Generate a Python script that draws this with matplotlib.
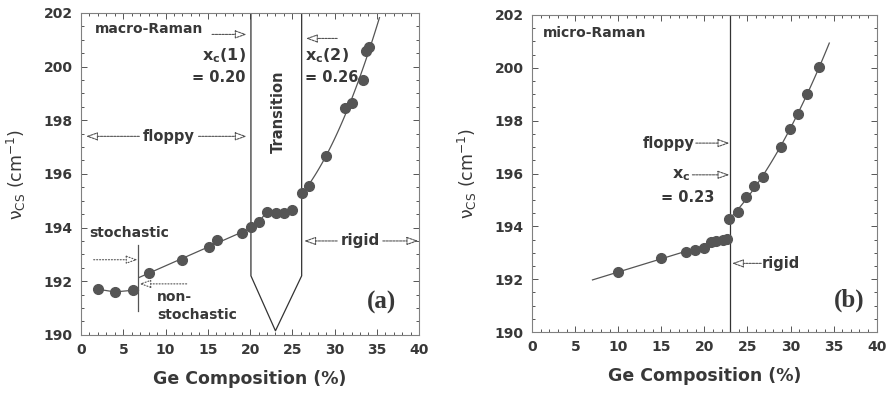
import numpy as np
import matplotlib
matplotlib.use("Agg")
import matplotlib.pyplot as plt
from matplotlib.ticker import MultipleLocator

# macro-Raman, Ge composition (%) vs corner-sharing mode frequency (cm^-1)
macro_x = [2.0, 4.0, 6.1, 8.0, 12.0, 15.1, 16.1, 19.1, 20.1, 21.0, 22.0, 23.1, 24.0, 25.0,
           26.1, 27.0, 29.0, 31.2, 32.1, 33.4, 33.7, 34.1]
macro_y = [191.70, 191.60, 191.66, 192.30, 192.80, 193.28, 193.53, 193.78, 194.03, 194.20,
           194.59, 194.55, 194.53, 194.67, 195.27, 195.56, 196.68, 198.47, 198.65, 199.50,
           200.58, 200.74]

# micro-Raman
micro_x = [10.0, 14.9, 17.9, 18.9, 19.9, 20.8, 21.3, 22.2, 22.6, 22.9, 23.9, 24.8, 25.7,
           26.8, 28.9, 29.9, 30.9, 31.9, 33.3]
micro_y = [192.28, 192.80, 193.03, 193.12, 193.18, 193.42, 193.45, 193.50, 193.53, 194.26,
           194.55, 195.10, 195.53, 195.88, 197.00, 197.68, 198.25, 199.00, 200.03]

plt.rcParams['font.family'] = ['DejaVu Sans']
plt.rcParams['font.weight'] = 'bold'
plt.rcParams['mathtext.default'] = 'regular'

ink = '#383838'
dot = '#555555'
thin = '#555555'
fs = 10.5

fig = plt.figure(figsize=(8.9, 3.93), dpi=100)
ax1 = fig.add_axes([0.091, 0.148, 0.380, 0.819])
ax2 = fig.add_axes([0.598, 0.155, 0.387, 0.807])


def style(ax):
    ax.set_xlim(0, 40)
    ax.set_ylim(190, 202)
    ax.xaxis.set_major_locator(MultipleLocator(5))
    ax.xaxis.set_minor_locator(MultipleLocator(1))
    ax.yaxis.set_major_locator(MultipleLocator(2))
    ax.yaxis.set_minor_locator(MultipleLocator(0.5))
    ax.tick_params(which='both', direction='in', top=True, right=True, color=thin,
                   labelsize=10, labelcolor=ink, width=0.7, pad=6)
    ax.tick_params(which='major', length=4)
    ax.tick_params(which='minor', length=2)
    for sp in ax.spines.values():
        sp.set_color('#808080')
        sp.set_linewidth(0.8)
    for lab in ax.get_xticklabels() + ax.get_yticklabels():
        lab.set_fontweight('bold')
    ax.set_xlabel('Ge Composition (%)', fontsize=12.5, color=ink, fontweight='bold', labelpad=9)
    ax.set_ylabel('ν$_{CS}$ (cm$^{-1}$)', fontsize=12.5, color=ink, labelpad=11)


def arrow(ax, x0, x1, y, ls=(0, (2, 1))):
    ax.annotate('', xy=(x1, y), xytext=(x0, y),
                arrowprops=dict(arrowstyle='-|>,head_length=0.7,head_width=0.25',
                                fc='white', ec=thin, lw=0.8, linestyle=ls,
                                shrinkA=0, shrinkB=0, mutation_scale=10))


mx = np.array(macro_x)
my = np.array(macro_y)
ux = np.array(micro_x)
uy = np.array(micro_y)

# ---- (a) macro-Raman
style(ax1)
low = mx <= 6.5
ax1.plot(list(mx[low]) + [6.8], list(my[low]) + [my[low][-1]], '-', color=thin, lw=0.9)
mid = (mx >= 8) & (mx <= 19.5)
k = np.polyfit(mx[mid], my[mid], 1)
xs = np.linspace(6.9, 20.1, 20)
ax1.plot(xs, np.polyval(k, xs), '-', color=thin, lw=0.9)
top = (mx >= 20) & (mx <= 25.5)
ax1.plot(mx[top], my[top], '-', color=thin, lw=0.9)
hi = mx >= 26
k = np.polyfit(mx[hi], my[hi], 2)
xs = np.linspace(26.1, 35.3, 60)
ax1.plot(xs, np.polyval(k, xs), '-', color=thin, lw=0.9)
ax1.plot(mx, my, 'o', color=dot, ms=7, mec=dot, zorder=3)

ax1.plot([6.8, 6.8], [190.9, 193.35], color=thin, lw=0.9)
ax1.plot([20.1, 20.1, 23.0, 26.1, 26.1], [202, 192.2, 190.15, 192.2, 202], color='#333333', lw=0.9)

ax1.text(1.6, 201.4, 'macro-Raman', fontsize=10, color=ink, va='center')
arrow(ax1, 15.5, 19.6, 201.2)
ax1.text(19.5, 200.4, r'x$_c$(1)', fontsize=11.5, color=ink, ha='right', va='center')
ax1.text(19.5, 199.6, '= 0.20', fontsize=fs, color=ink, ha='right', va='center')
arrow(ax1, 30.3, 26.6, 201.05)
ax1.text(26.5, 200.4, r'x$_c$(2)', fontsize=11.5, color=ink, ha='left', va='center')
ax1.text(26.5, 199.6, '= 0.26', fontsize=fs, color=ink, ha='left', va='center')
ax1.text(23.3, 198.3, 'Transition', fontsize=fs, color=ink, rotation=90, ha='center', va='center')

ax1.text(10.4, 197.4, 'floppy', fontsize=fs, color=ink, ha='center', va='center')
arrow(ax1, 6.9, 0.6, 197.4)
arrow(ax1, 13.9, 19.6, 197.4)
ax1.text(33.0, 193.5, 'rigid', fontsize=11, color=ink, ha='center', va='center')
arrow(ax1, 30.3, 26.4, 193.5)
arrow(ax1, 35.7, 39.9, 193.5)

ax1.text(1.0, 193.8, 'stochastic', fontsize=10, color=ink, va='center')
arrow(ax1, 1.5, 6.7, 192.8, ls=':')
arrow(ax1, 12.5, 6.9, 191.9, ls=':')
ax1.text(9.0, 191.4, 'non-', fontsize=10, color=ink, va='center')
ax1.text(9.0, 190.75, 'stochastic', fontsize=10, color=ink, va='center')
ax1.text(35.6, 191.2, '(a)', fontsize=18, color=ink, ha='center', va='center',
         family='Liberation Serif', fontweight='bold')

# ---- (b) micro-Raman
style(ax2)
left = ux <= 22.7
k = np.polyfit(ux[left], uy[left], 1)
xs = np.linspace(7.0, 22.9, 20)
ax2.plot(xs, np.polyval(k, xs), '-', color=thin, lw=0.9)
right = ux >= 22.8
k = np.polyfit(ux[right], uy[right], 2)
xs = np.linspace(22.9, 34.5, 60)
ax2.plot(xs, np.polyval(k, xs), '-', color=thin, lw=0.9)
ax2.plot(ux, uy, 'o', color=dot, ms=7, mec=dot, zorder=3)
ax2.axvline(23.0, color='#333333', lw=0.9)

ax2.text(1.2, 201.3, 'micro-Raman', fontsize=10, color=ink, va='center')
ax2.text(18.9, 197.15, 'floppy', fontsize=fs, color=ink, ha='right', va='center')
arrow(ax2, 19.0, 22.9, 197.15)
ax2.text(18.4, 195.95, r'x$_c$', fontsize=11.5, color=ink, ha='right', va='center')
arrow(ax2, 18.6, 22.9, 195.95)
ax2.text(21.2, 195.1, '= 0.23', fontsize=fs, color=ink, ha='right', va='center')
arrow(ax2, 26.6, 23.2, 192.6)
ax2.text(26.7, 192.6, 'rigid', fontsize=fs, color=ink, ha='left', va='center')
ax2.text(36.8, 191.2, '(b)', fontsize=18, color=ink, ha='center', va='center',
         family='Liberation Serif', fontweight='bold')

fig.savefig('out.png', dpi=100)
